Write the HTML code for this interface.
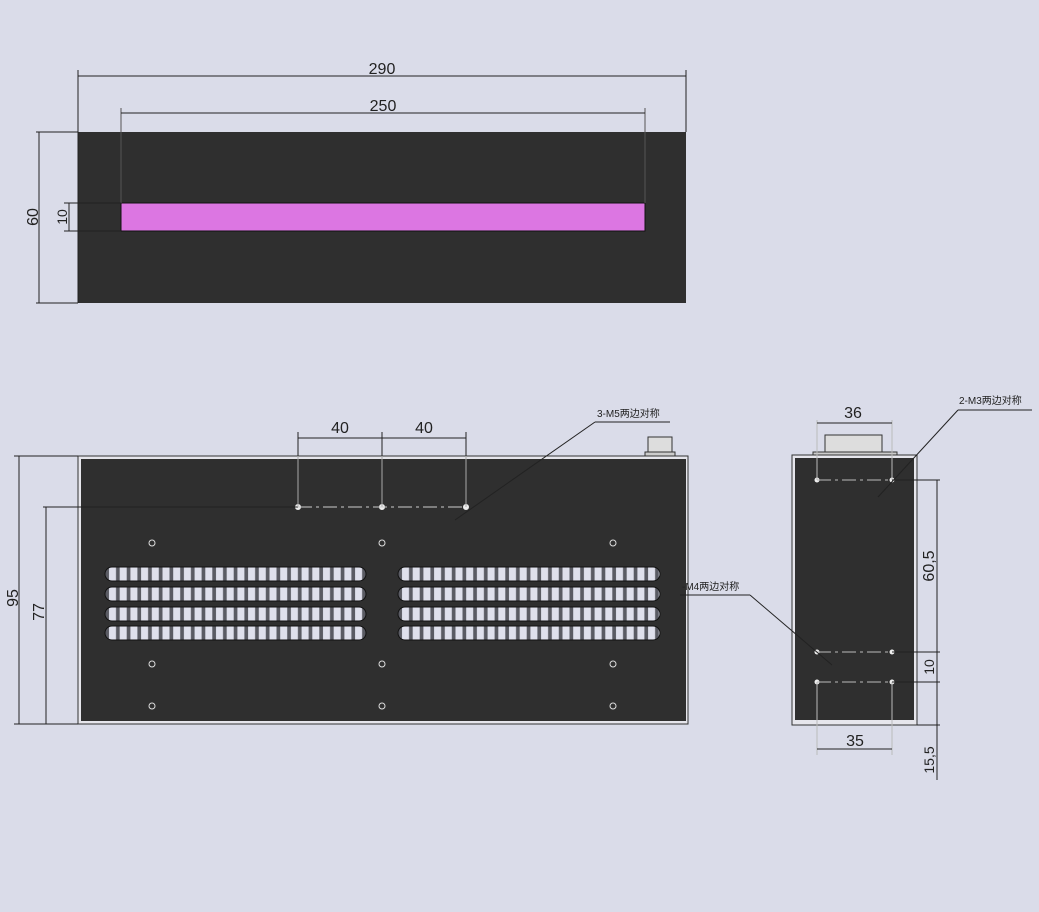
<!DOCTYPE html>
<html><head><meta charset="utf-8"><style>
html,body{margin:0;padding:0;background:#dadce9;}
svg{display:block}
text{font-family:"Liberation Sans","Noto Sans CJK SC",sans-serif;fill:#222;}
</style></head><body>
<svg width="1039" height="912" viewBox="0 0 1039 912" xmlns="http://www.w3.org/2000/svg">
<defs>
<pattern id="slat" x="107" y="0" width="10.7" height="20" patternUnits="userSpaceOnUse">
<rect x="0" y="0" width="10.7" height="20" fill="#5a5b63"/>
<rect x="2" y="0" width="7" height="20" fill="#dfe0ec"/>
</pattern>
<pattern id="slat2" x="400" y="0" width="10.7" height="20" patternUnits="userSpaceOnUse">
<rect x="0" y="0" width="10.7" height="20" fill="#5a5b63"/>
<rect x="2" y="0" width="7" height="20" fill="#dfe0ec"/>
</pattern>
</defs>
<rect width="1039" height="912" fill="#dadce9"/>

<!-- TOP VIEW -->
<rect x="78" y="132" width="608" height="171" fill="#2f2f2f"/>
<rect x="121" y="203" width="524" height="28" fill="#dc76e2" stroke="#111" stroke-width="1"/>
<g stroke="#222" stroke-width="1" fill="none">
<line x1="78" y1="70" x2="78" y2="303"/><line x1="686" y1="70" x2="686" y2="132"/>
<line x1="78" y1="76" x2="686" y2="76"/>
<line x1="121" y1="108" x2="121" y2="203" stroke="#555"/><line x1="645" y1="108" x2="645" y2="203" stroke="#555"/>
<line x1="121" y1="113" x2="645" y2="113"/>
<line x1="36" y1="132" x2="78" y2="132"/><line x1="36" y1="303" x2="78" y2="303"/>
<line x1="39" y1="132" x2="39" y2="303"/>
<line x1="64" y1="203" x2="121" y2="203"/><line x1="64" y1="231" x2="121" y2="231"/>
<line x1="69" y1="203" x2="69" y2="231"/>
</g>
<text x="382" y="74" font-size="16" text-anchor="middle">290</text>
<text x="383" y="111" font-size="16" text-anchor="middle">250</text>
<text transform="translate(38,217) rotate(-90)" font-size="16" text-anchor="middle">60</text>
<text transform="translate(67,217) rotate(-90)" font-size="14" text-anchor="middle">10</text>

<!-- FRONT VIEW -->
<rect x="648" y="437" width="24" height="17" fill="#ddd" stroke="#333"/>
<rect x="645" y="452" width="30" height="4" fill="#ccc" stroke="#333"/>
<rect x="78" y="456" width="610" height="268" fill="#e6e6ec" stroke="#333"/>
<rect x="81" y="459" width="605" height="262" fill="#2f2f2f"/>
<g>
<rect x="105" y="567" width="261" height="14" rx="7" fill="url(#slat)" stroke="#111"/>
<rect x="105" y="587" width="261" height="14" rx="7" fill="url(#slat)" stroke="#111"/>
<rect x="105" y="607" width="261" height="14" rx="7" fill="url(#slat)" stroke="#111"/>
<rect x="105" y="626" width="261" height="14" rx="7" fill="url(#slat)" stroke="#111"/>
<rect x="398" y="567" width="262" height="14" rx="7" fill="url(#slat2)" stroke="#111"/>
<rect x="398" y="587" width="262" height="14" rx="7" fill="url(#slat2)" stroke="#111"/>
<rect x="398" y="607" width="262" height="14" rx="7" fill="url(#slat2)" stroke="#111"/>
<rect x="398" y="626" width="262" height="14" rx="7" fill="url(#slat2)" stroke="#111"/>
</g>
<g fill="none" stroke="#ddd" stroke-width="1">
<circle cx="152" cy="543" r="3"/><circle cx="382" cy="543" r="3"/><circle cx="613" cy="543" r="3"/>
<circle cx="152" cy="664" r="3"/><circle cx="382" cy="664" r="3"/><circle cx="613" cy="664" r="3"/>
<circle cx="152" cy="706" r="3"/><circle cx="382" cy="706" r="3"/><circle cx="613" cy="706" r="3"/>
</g>
<g fill="#eee"><circle cx="298" cy="507" r="3"/><circle cx="382" cy="507" r="3"/><circle cx="466" cy="507" r="3"/></g>
<g stroke="#222" stroke-width="1" fill="none">
<line x1="14" y1="456" x2="78" y2="456"/><line x1="14" y1="724" x2="78" y2="724"/>
<line x1="19" y1="456" x2="19" y2="724"/>
<line x1="43" y1="507" x2="298" y2="507"/>
<line x1="46" y1="507" x2="46" y2="724"/>
<line x1="298" y1="432" x2="298" y2="456"/><line x1="382" y1="432" x2="382" y2="456"/><line x1="466" y1="432" x2="466" y2="456"/>
<line x1="298" y1="438" x2="466" y2="438"/>
<line x1="595" y1="422" x2="670" y2="422"/>
<line x1="595" y1="422" x2="455" y2="520"/>
</g>
<g stroke="#aaa" stroke-width="1" fill="none">
<line x1="298" y1="456" x2="298" y2="507"/><line x1="382" y1="456" x2="382" y2="507"/><line x1="466" y1="456" x2="466" y2="507"/>
<line x1="298" y1="507" x2="466" y2="507" stroke="#ccc" stroke-dasharray="14 4 3 4"/>
</g>
<text transform="translate(18,598) rotate(-90)" font-size="16" text-anchor="middle">95</text>
<text transform="translate(44,612) rotate(-90)" font-size="16" text-anchor="middle">77</text>
<text x="340" y="433" font-size="16" text-anchor="middle">40</text>
<text x="424" y="433" font-size="16" text-anchor="middle">40</text>
<text x="597" y="417" font-size="10">3-M5两边对称</text>

<!-- SIDE VIEW -->
<rect x="825" y="435" width="57" height="17" fill="#ddd" stroke="#333"/>
<rect x="813" y="452" width="84" height="4" fill="#ccc" stroke="#333"/>
<rect x="792" y="455" width="125" height="270" fill="#e6e6ec" stroke="#333"/>
<rect x="795" y="458" width="119" height="262" fill="#2f2f2f"/>
<g fill="#eee"><circle cx="817" cy="480" r="2.5"/><circle cx="892" cy="480" r="2.5"/><circle cx="817" cy="652" r="2.5"/><circle cx="892" cy="652" r="2.5"/><circle cx="817" cy="682" r="2.5"/><circle cx="892" cy="682" r="2.5"/></g>
<g stroke="#bbb" fill="none">
<line x1="817" y1="480" x2="892" y2="480" stroke-dasharray="14 4 3 4"/>
<line x1="817" y1="652" x2="892" y2="652" stroke-dasharray="14 4 3 4"/>
<line x1="817" y1="682" x2="892" y2="682" stroke-dasharray="14 4 3 4"/>
<line x1="817" y1="420" x2="817" y2="480"/><line x1="892" y1="420" x2="892" y2="480"/>
<line x1="817" y1="682" x2="817" y2="755"/><line x1="892" y1="682" x2="892" y2="755"/>
</g>
<g stroke="#222" stroke-width="1" fill="none">
<line x1="817" y1="423" x2="892" y2="423"/>
<line x1="817" y1="749" x2="892" y2="749"/>
<line x1="892" y1="480" x2="940" y2="480"/><line x1="892" y1="652" x2="940" y2="652"/>
<line x1="892" y1="682" x2="940" y2="682"/><line x1="917" y1="725" x2="940" y2="725"/>
<line x1="937" y1="480" x2="937" y2="780"/>
<line x1="958" y1="410" x2="1032" y2="410"/>
<line x1="958" y1="410" x2="878" y2="497"/>
<line x1="680" y1="595" x2="750" y2="595"/>
<line x1="750" y1="595" x2="832" y2="665"/>
</g>
<text x="853" y="418" font-size="16" text-anchor="middle">36</text>
<text x="855" y="746" font-size="16" text-anchor="middle">35</text>
<text transform="translate(934,566) rotate(-90)" font-size="16" text-anchor="middle">60,5</text>
<text transform="translate(934,667) rotate(-90)" font-size="14" text-anchor="middle">10</text>
<text transform="translate(934,760) rotate(-90)" font-size="14" text-anchor="middle">15,5</text>
<text x="959" y="404" font-size="10">2-M3两边对称</text>
<text x="682" y="590" font-size="10">-M4两边对称</text>
</svg>
</body></html>
